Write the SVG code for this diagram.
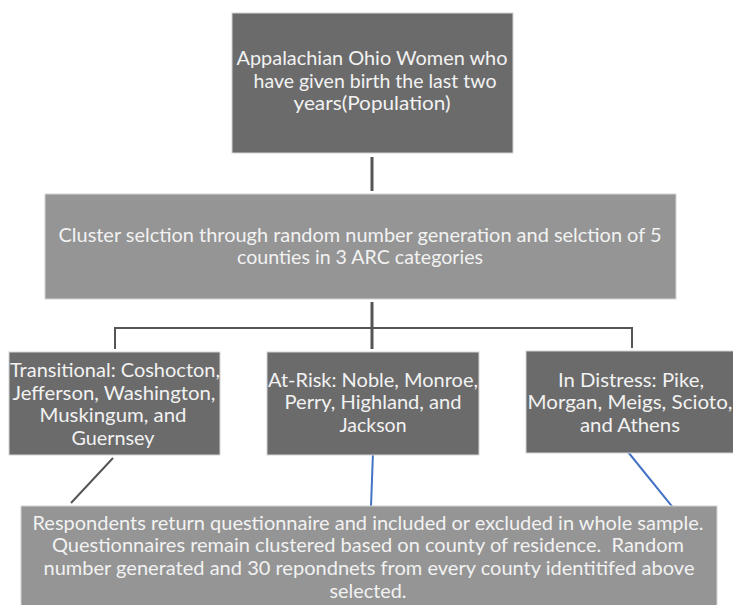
<svg xmlns="http://www.w3.org/2000/svg" width="733" height="605" viewBox="0 0 733 605">
<style>
.dark{fill:#6b6b6b;stroke:#d4d4d4;stroke-width:1}
.light{fill:#959595;stroke:#d4d4d4;stroke-width:1}
text{font-family:Lato,"Open Sans","Liberation Sans",sans-serif;font-size:20px;fill:#f2f2f2;text-anchor:middle;white-space:pre}
.c{fill:none;stroke:#555555;stroke-width:2}
.ct{fill:none;stroke:#555555;stroke-width:3}
.b{fill:none;stroke:#4472c4;stroke-width:2}
</style>
<rect width="733" height="605" fill="#ffffff"/>
<g id="connectors">
<line class="ct" x1="372" y1="157" x2="372" y2="191"/>
<line class="ct" x1="372" y1="302" x2="372" y2="349"/>
<polyline class="c" points="115,349 115,328 632,328 632,348"/>
<line class="c" x1="113" y1="458" x2="71" y2="503"/>
<line class="b" x1="373" y1="452" x2="371" y2="507"/>
<line class="b" x1="628" y1="452" x2="679" y2="515"/>
</g>
<g id="population">
<rect class="dark" x="232" y="13" width="281" height="140"/>
<text x="372" y="65" textLength="271" lengthAdjust="spacingAndGlyphs">Appalachian Ohio Women who</text>
<text x="375" y="88" textLength="243" lengthAdjust="spacingAndGlyphs">have given birth the last two</text>
<text x="372" y="110" textLength="157" lengthAdjust="spacingAndGlyphs">years(Population)</text>
</g>
<g id="cluster">
<rect class="light" x="45" y="194" width="631" height="105"/>
<text x="360" y="242" textLength="603" lengthAdjust="spacingAndGlyphs">Cluster selction through random number generation and selction of 5</text>
<text x="360" y="264" textLength="246" lengthAdjust="spacingAndGlyphs">counties in 3 ARC categories</text>
</g>
<g id="transitional">
<rect class="dark" x="9" y="352" width="211" height="103"/>
<text x="115" y="377" textLength="210" lengthAdjust="spacingAndGlyphs">Transitional: Coshocton,</text>
<text x="114" y="400" textLength="203" lengthAdjust="spacingAndGlyphs">Jefferson, Washington,</text>
<text x="113" y="422" textLength="147" lengthAdjust="spacingAndGlyphs">Muskingum, and</text>
<text x="113" y="445" textLength="83" lengthAdjust="spacingAndGlyphs">Guernsey</text>
</g>
<g id="atrisk">
<rect class="dark" x="267" y="352" width="212" height="103"/>
<text x="373" y="387" textLength="210" lengthAdjust="spacingAndGlyphs">At-Risk: Noble, Monroe,</text>
<text x="373" y="409" textLength="177" lengthAdjust="spacingAndGlyphs">Perry, Highland, and</text>
<text x="373" y="432" textLength="67" lengthAdjust="spacingAndGlyphs">Jackson</text>
</g>
<g id="distress">
<rect class="dark" x="526" y="351" width="212" height="102"/>
<text x="631" y="387" textLength="146" lengthAdjust="spacingAndGlyphs">In Distress: Pike,</text>
<text x="630" y="409" textLength="205" lengthAdjust="spacingAndGlyphs">Morgan, Meigs, Scioto,</text>
<text x="630" y="432" textLength="100" lengthAdjust="spacingAndGlyphs">and Athens</text>
</g>
<g id="respondents">
<rect class="light" x="21" y="506" width="696" height="105"/>
<text x="368" y="530" textLength="671" lengthAdjust="spacingAndGlyphs">Respondents return questionnaire and included or excluded in whole sample.</text>
<text x="368" y="552" textLength="632" lengthAdjust="spacingAndGlyphs">Questionnaires remain clustered based on county of residence.  Random</text>
<text x="369" y="575" textLength="651" lengthAdjust="spacingAndGlyphs">number generated and 30 repondnets from every county identitifed above</text>
<text x="368" y="598" textLength="77" lengthAdjust="spacingAndGlyphs">selected.</text>
</g>
</svg>
